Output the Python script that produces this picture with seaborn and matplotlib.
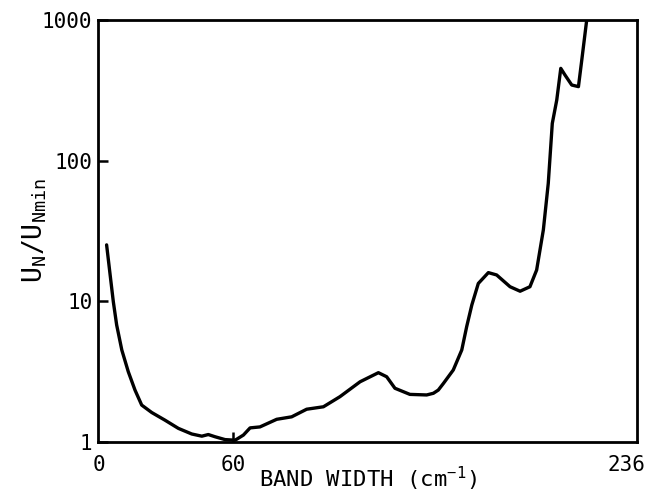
import matplotlib
matplotlib.use("Agg")
import matplotlib.pyplot as plt
import seaborn as sns
import pandas as pd

# Normalised noise versus filter band width
band_width = [3.4, 4.9, 6.4, 7.9, 10.2, 13.1, 16.1, 19.1, 23.6, 29.5,
              35.5, 41.5, 46.0, 48.9, 51.9, 56.4, 60.9, 64.6, 67.6, 72.0,
              79.5, 86.2, 92.9, 100.4, 107.8, 116.8, 125.0, 128.7, 132.4, 139.1,
              146.6, 149.6, 151.8, 154.1, 158.5, 162.3, 164.5, 166.8, 169.7, 174.2,
              177.9, 183.9, 188.4, 192.8, 195.8, 197.3, 198.8, 201.0, 202.8, 204.8,
              206.6, 208.5, 211.5, 214.5, 216.0, 218.2]
noise_ratio = [25.2, 15.8, 9.95, 6.79, 4.51, 3.16, 2.34, 1.83, 1.62, 1.43,
               1.25, 1.14, 1.10, 1.13, 1.09, 1.04, 1.03, 1.12, 1.26, 1.28,
               1.45, 1.51, 1.71, 1.78, 2.10, 2.68, 3.11, 2.91, 2.41, 2.18,
               2.16, 2.22, 2.34, 2.61, 3.25, 4.51, 6.61, 9.42, 13.4, 16.0,
               15.4, 12.7, 11.8, 12.7, 16.7, 23.2, 32.2, 69, 184, 270,
               453, 406, 345, 336, 520, 1000]

x_ticks = [0, 60, 236]
x_tick_labels = ["0", "60", "236"]
y_ticks = [1, 10, 100, 1000]
y_tick_labels = ["1", "10", "100", "1000"]

df = pd.DataFrame({"bw": band_width, "ratio": noise_ratio})

sns.set_style("ticks")
plt.rcParams["font.family"] = ["DejaVu Sans Mono"]
plt.rcParams["mathtext.default"] = "regular"
plt.rcParams["text.color"] = "black"
plt.rcParams["axes.labelcolor"] = "black"

fig = plt.figure(figsize=(6.49, 4.94), dpi=100)
ax = fig.add_axes([98 / 649, 52 / 494, 539 / 649, 422 / 494])

sns.lineplot(data=df, x="bw", y="ratio", ax=ax, color="black", linewidth=2.4,
             sort=False, estimator=None)
ax.lines[0].set_solid_joinstyle("round")
ax.lines[0].set_solid_capstyle("round")

ax.set_yscale("log")
ax.set_xlim(-0.45, 240.7)
ax.set_ylim(1, 1000)

ax.set_xticks(x_ticks)
ax.set_xticklabels(x_tick_labels)
ax.set_yticks(y_ticks)
ax.set_yticklabels(y_tick_labels)
ax.yaxis.set_minor_locator(matplotlib.ticker.NullLocator())
ax.xaxis.set_minor_locator(matplotlib.ticker.NullLocator())

ax.tick_params(axis="both", direction="in", length=7, width=1.8,
               labelsize=15, colors="black")
ax.tick_params(axis="x", pad=9)
ax.tick_params(axis="y", pad=4)
for i in (0, 2):
    ax.xaxis.get_major_ticks()[i].tick1line.set_visible(False)

for side in ("left", "right", "top", "bottom"):
    ax.spines[side].set_visible(True)
    ax.spines[side].set_linewidth(2.0)
    ax.spines[side].set_color("black")

ax.set_xlabel("BAND WIDTH (cm$^{-1}$)", fontsize=16, labelpad=-7)
ax.set_ylabel("U$_N$/U$_{Nmin}$", fontsize=19, labelpad=-5)

fig.savefig("out.png", dpi=100)
